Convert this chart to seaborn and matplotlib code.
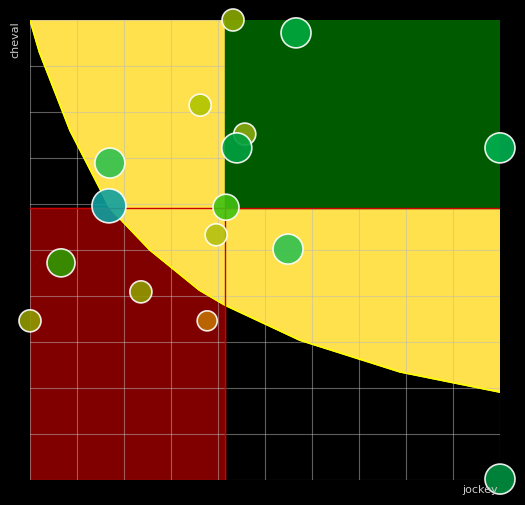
import numpy as np
import pandas as pd
import matplotlib
matplotlib.use("Agg")
import matplotlib.pyplot as plt
import seaborn as sns

# boundary curve
curve_x = [0, 0.2, 0.43, 0.85, 1.7, 2.55, 3.6, 4.15, 5.74, 7.87, 10]
curve_y = [10, 9.3, 8.7, 7.6, 5.91, 5.0, 4.13, 3.8, 3.04, 2.35, 1.91]

mid_x = 4.15
mid_y = 5.91

jockey = [4.32, 5.66, 3.62, 4.57, 4.40, 1.70, 10.0, 1.68, 4.17, 3.96, 5.49, 0.66, 2.36, 0.0, 3.77, 10.0]
cheval = [10.0, 9.72, 8.15, 7.52, 7.22, 6.89, 7.22, 5.96, 5.93, 5.33, 5.02, 4.72, 4.09, 3.46, 3.46, 0.02]
radius = [11, 15, 11, 11, 15, 15, 15, 17, 13, 11, 15, 14, 11, 11, 10, 15]
colors = ["#8aa800", "#00a840", "#b0c400", "#88a810", "#00a040", "#30c050", "#00b050",
          "#10a0a0", "#40c010", "#b4c010", "#30c050", "#309800", "#909a00", "#909a00",
          "#c07000", "#009040"]

df = pd.DataFrame({"jockey": jockey, "cheval": cheval,
                   "s": [(2 * r * 0.72) ** 2 for r in radius]})

fig = plt.figure(figsize=(5.25, 5.05), dpi=100, facecolor="black")
ax = fig.add_axes([30 / 525, 25 / 505, 470 / 525, 460 / 505])
ax.set_facecolor("black")
ax.set_xlim(0, 10)
ax.set_ylim(0, 10)

ax.add_patch(plt.Rectangle((0, 0), mid_x, mid_y, color="#800000", zorder=1))
cx = np.array(curve_x)
cy = np.array(curve_y)
ax.fill(np.r_[cx, 10], np.r_[cy, 10], color="#ffe14d", zorder=2)
ax.plot(cx, cy, color="#ffff00", lw=1.2, zorder=3)
ax.add_patch(plt.Rectangle((mid_x, mid_y), 10 - mid_x, 10 - mid_y, color="#005a00", zorder=3))
ax.axvline(mid_x, ymax=mid_y / 10, color="#cc0000", lw=1, zorder=4)
ax.axhline(mid_y, xmin=0, color="#cc0000", lw=1, zorder=4)

ax.set_xticks(np.arange(0, 11, 1))
ax.set_yticks(np.arange(0, 11, 1))
ax.grid(True, color="#bbbbbb", alpha=0.5, lw=0.8, zorder=5)
ax.set_axisbelow(False)
ax.tick_params(length=0, labelbottom=False, labelleft=False)
for sp in ax.spines.values():
    sp.set_visible(False)

sns.scatterplot(data=df, x="jockey", y="cheval", s=df["s"], c=colors,
                edgecolor="white", linewidth=1.2, alpha=0.9, ax=ax,
                zorder=6, clip_on=False, legend=False)
ax.set_xlabel("")
ax.set_ylabel("")

fig.text(15 / 525, 1 - 40 / 505, "cheval", rotation=90, color="#cccccc",
         fontsize=8, ha="center", va="center")
fig.text(480 / 525, 1 - 490 / 505, "jockey", color="#cccccc",
         fontsize=8, ha="center", va="center")

fig.savefig("out.png", dpi=100, facecolor="black")
